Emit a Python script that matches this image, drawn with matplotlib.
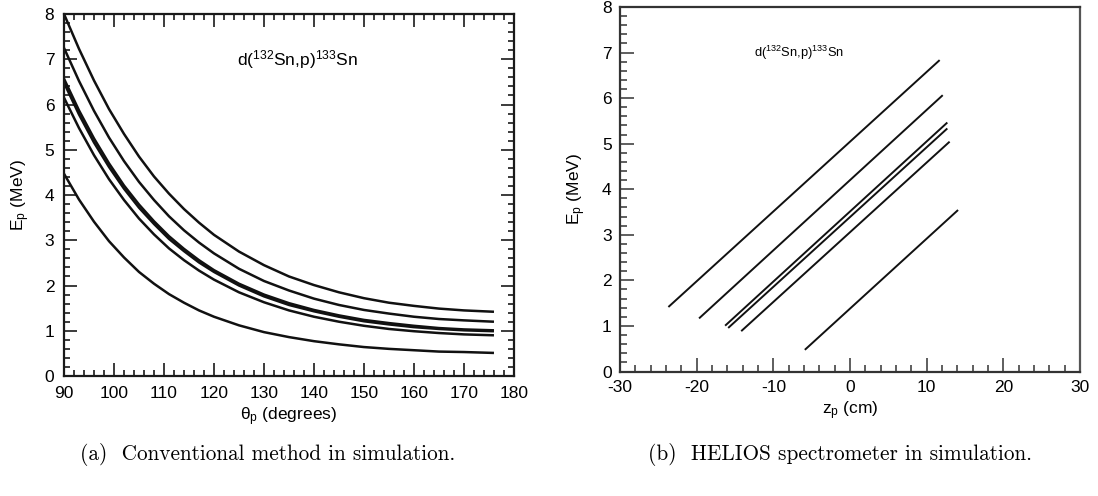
import matplotlib
matplotlib.use("Agg")
import matplotlib.pyplot as plt
from matplotlib.ticker import MultipleLocator

plt.rcParams['font.family'] = ['Liberation Sans', 'DejaVu Sans']
plt.rcParams['mathtext.fontset'] = 'custom'
plt.rcParams['mathtext.rm'] = 'Liberation Sans'
plt.rcParams['mathtext.it'] = 'Liberation Sans:italic'
plt.rcParams['axes.unicode_minus'] = False

# ---- panel (a): conventional method, E_p vs theta_p ----
theta_deg = [90, 93, 96, 99, 102, 105, 108, 111, 114, 117, 120, 125, 130,
             135, 140, 145, 150, 155, 160, 165, 170, 176]
E_curve1 = [8.00, 7.23, 6.53, 5.90, 5.35, 4.85, 4.41, 4.03, 3.69, 3.39, 3.12,
            2.75, 2.45, 2.20, 2.01, 1.85, 1.72, 1.62, 1.55, 1.49, 1.45, 1.42]
E_curve2 = [7.25, 6.52, 5.86, 5.27, 4.75, 4.29, 3.89, 3.53, 3.22, 2.95, 2.71,
            2.37, 2.10, 1.89, 1.71, 1.57, 1.46, 1.38, 1.31, 1.26, 1.23, 1.20]
E_curve3a = [6.57, 5.87, 5.25, 4.70, 4.21, 3.79, 3.42, 3.09, 2.81, 2.56, 2.34,
             2.04, 1.80, 1.61, 1.46, 1.34, 1.24, 1.17, 1.11, 1.06, 1.03, 1.01]
E_curve3b = [6.48, 5.78, 5.16, 4.62, 4.14, 3.72, 3.36, 3.03, 2.76, 2.51, 2.30,
             2.00, 1.76, 1.57, 1.43, 1.31, 1.21, 1.14, 1.08, 1.04, 1.01, 0.99]
E_curve4 = [6.15, 5.48, 4.88, 4.35, 3.89, 3.48, 3.13, 2.82, 2.56, 2.33, 2.13,
            1.85, 1.63, 1.45, 1.31, 1.20, 1.11, 1.04, 0.99, 0.95, 0.92, 0.90]
E_curve5 = [4.47, 3.90, 3.41, 2.98, 2.62, 2.30, 2.04, 1.81, 1.62, 1.45, 1.31,
            1.12, 0.97, 0.86, 0.77, 0.70, 0.64, 0.60, 0.57, 0.54, 0.53, 0.51]
curves_a = [E_curve1, E_curve2, E_curve3a, E_curve3b, E_curve4, E_curve5]

# ---- panel (b): HELIOS, E_p vs z_p (straight lines: start / end points) ----
z_start = [-23.6, -19.6, -16.2, -15.8, -14.1, -5.8]
z_end = [11.6, 12.0, 12.6, 12.6, 12.9, 14.0]
E_start = [1.43, 1.18, 1.02, 0.97, 0.90, 0.49]
E_end = [6.82, 6.05, 5.45, 5.32, 5.03, 3.53]

reaction = r"d($\mathregular{^{132}}$Sn,p)$\mathregular{^{133}}$Sn"

fig = plt.figure(figsize=(10.98, 4.96), dpi=100)

# ---------- left ----------
axa = fig.add_axes([0.0583, 0.2419, 0.4098, 0.7298])
for E in curves_a:
    axa.plot(theta_deg, E, color='#111111', lw=1.8, solid_capstyle='butt')
axa.set_xlim(90, 180)
axa.set_ylim(0, 8)
axa.xaxis.set_major_locator(MultipleLocator(10))
axa.xaxis.set_minor_locator(MultipleLocator(2))
axa.yaxis.set_major_locator(MultipleLocator(1))
axa.yaxis.set_minor_locator(MultipleLocator(0.2))
axa.tick_params(which='both', direction='in', top=True, right=True,
                color='#1a1a1a', width=1.2)
axa.tick_params(which='major', length=9.5, labelsize=12.5, pad=7)
axa.tick_params(which='minor', length=4.5)
for s in axa.spines.values():
    s.set_linewidth(1.6)
    s.set_color('#1a1a1a')
axa.set_xlabel(r"$\mathregular{\theta_p}$ (degrees)", fontsize=12.5, labelpad=3)
axa.set_ylabel(r"E$\mathregular{_p}$ (MeV)", fontsize=12.5, labelpad=9)
axa.text(136.8, 7.0, reaction, fontsize=12.5, ha='center', va='center')

# ---------- right ----------
axb = fig.add_axes([0.5647, 0.2510, 0.4189, 0.7349])
for zs, ze, es, ee in zip(z_start, z_end, E_start, E_end):
    axb.plot([zs, ze], [es, ee], color='#111111', lw=1.4)
axb.set_xlim(-30, 30)
axb.set_ylim(0, 8)
axb.xaxis.set_major_locator(MultipleLocator(10))
axb.xaxis.set_minor_locator(MultipleLocator(2))
axb.yaxis.set_major_locator(MultipleLocator(1))
axb.yaxis.set_minor_locator(MultipleLocator(0.2))
axb.tick_params(which='both', direction='in', color='#333333', width=1.1)
axb.tick_params(which='major', length=10, labelsize=12.5, pad=6)
axb.tick_params(which='minor', length=5)
for s in axb.spines.values():
    s.set_linewidth(1.6)
    s.set_color('#555555')
axb.spines['top'].set_color('#333333')
axb.spines['left'].set_color('#333333')
axb.spines['bottom'].set_color('#333333')
axb.set_xlabel(r"z$\mathregular{_p}$ (cm)", fontsize=12.5, labelpad=3)
axb.set_ylabel(r"E$\mathregular{_p}$ (MeV)", fontsize=12.5, labelpad=10)
axb.text(-6.65, 7.0, reaction, fontsize=9.3, ha='center', va='center')

# ---------- captions ----------
fig.text(0.2435, 0.083, "(a)  Conventional method in simulation.",
         family='cmr10', fontsize=15.3, ha='center', va='center')
fig.text(0.765, 0.083, "(b)  HELIOS spectrometer in simulation.",
         family='cmr10', fontsize=15.3, ha='center', va='center')

fig.savefig("out.png", dpi=100)
